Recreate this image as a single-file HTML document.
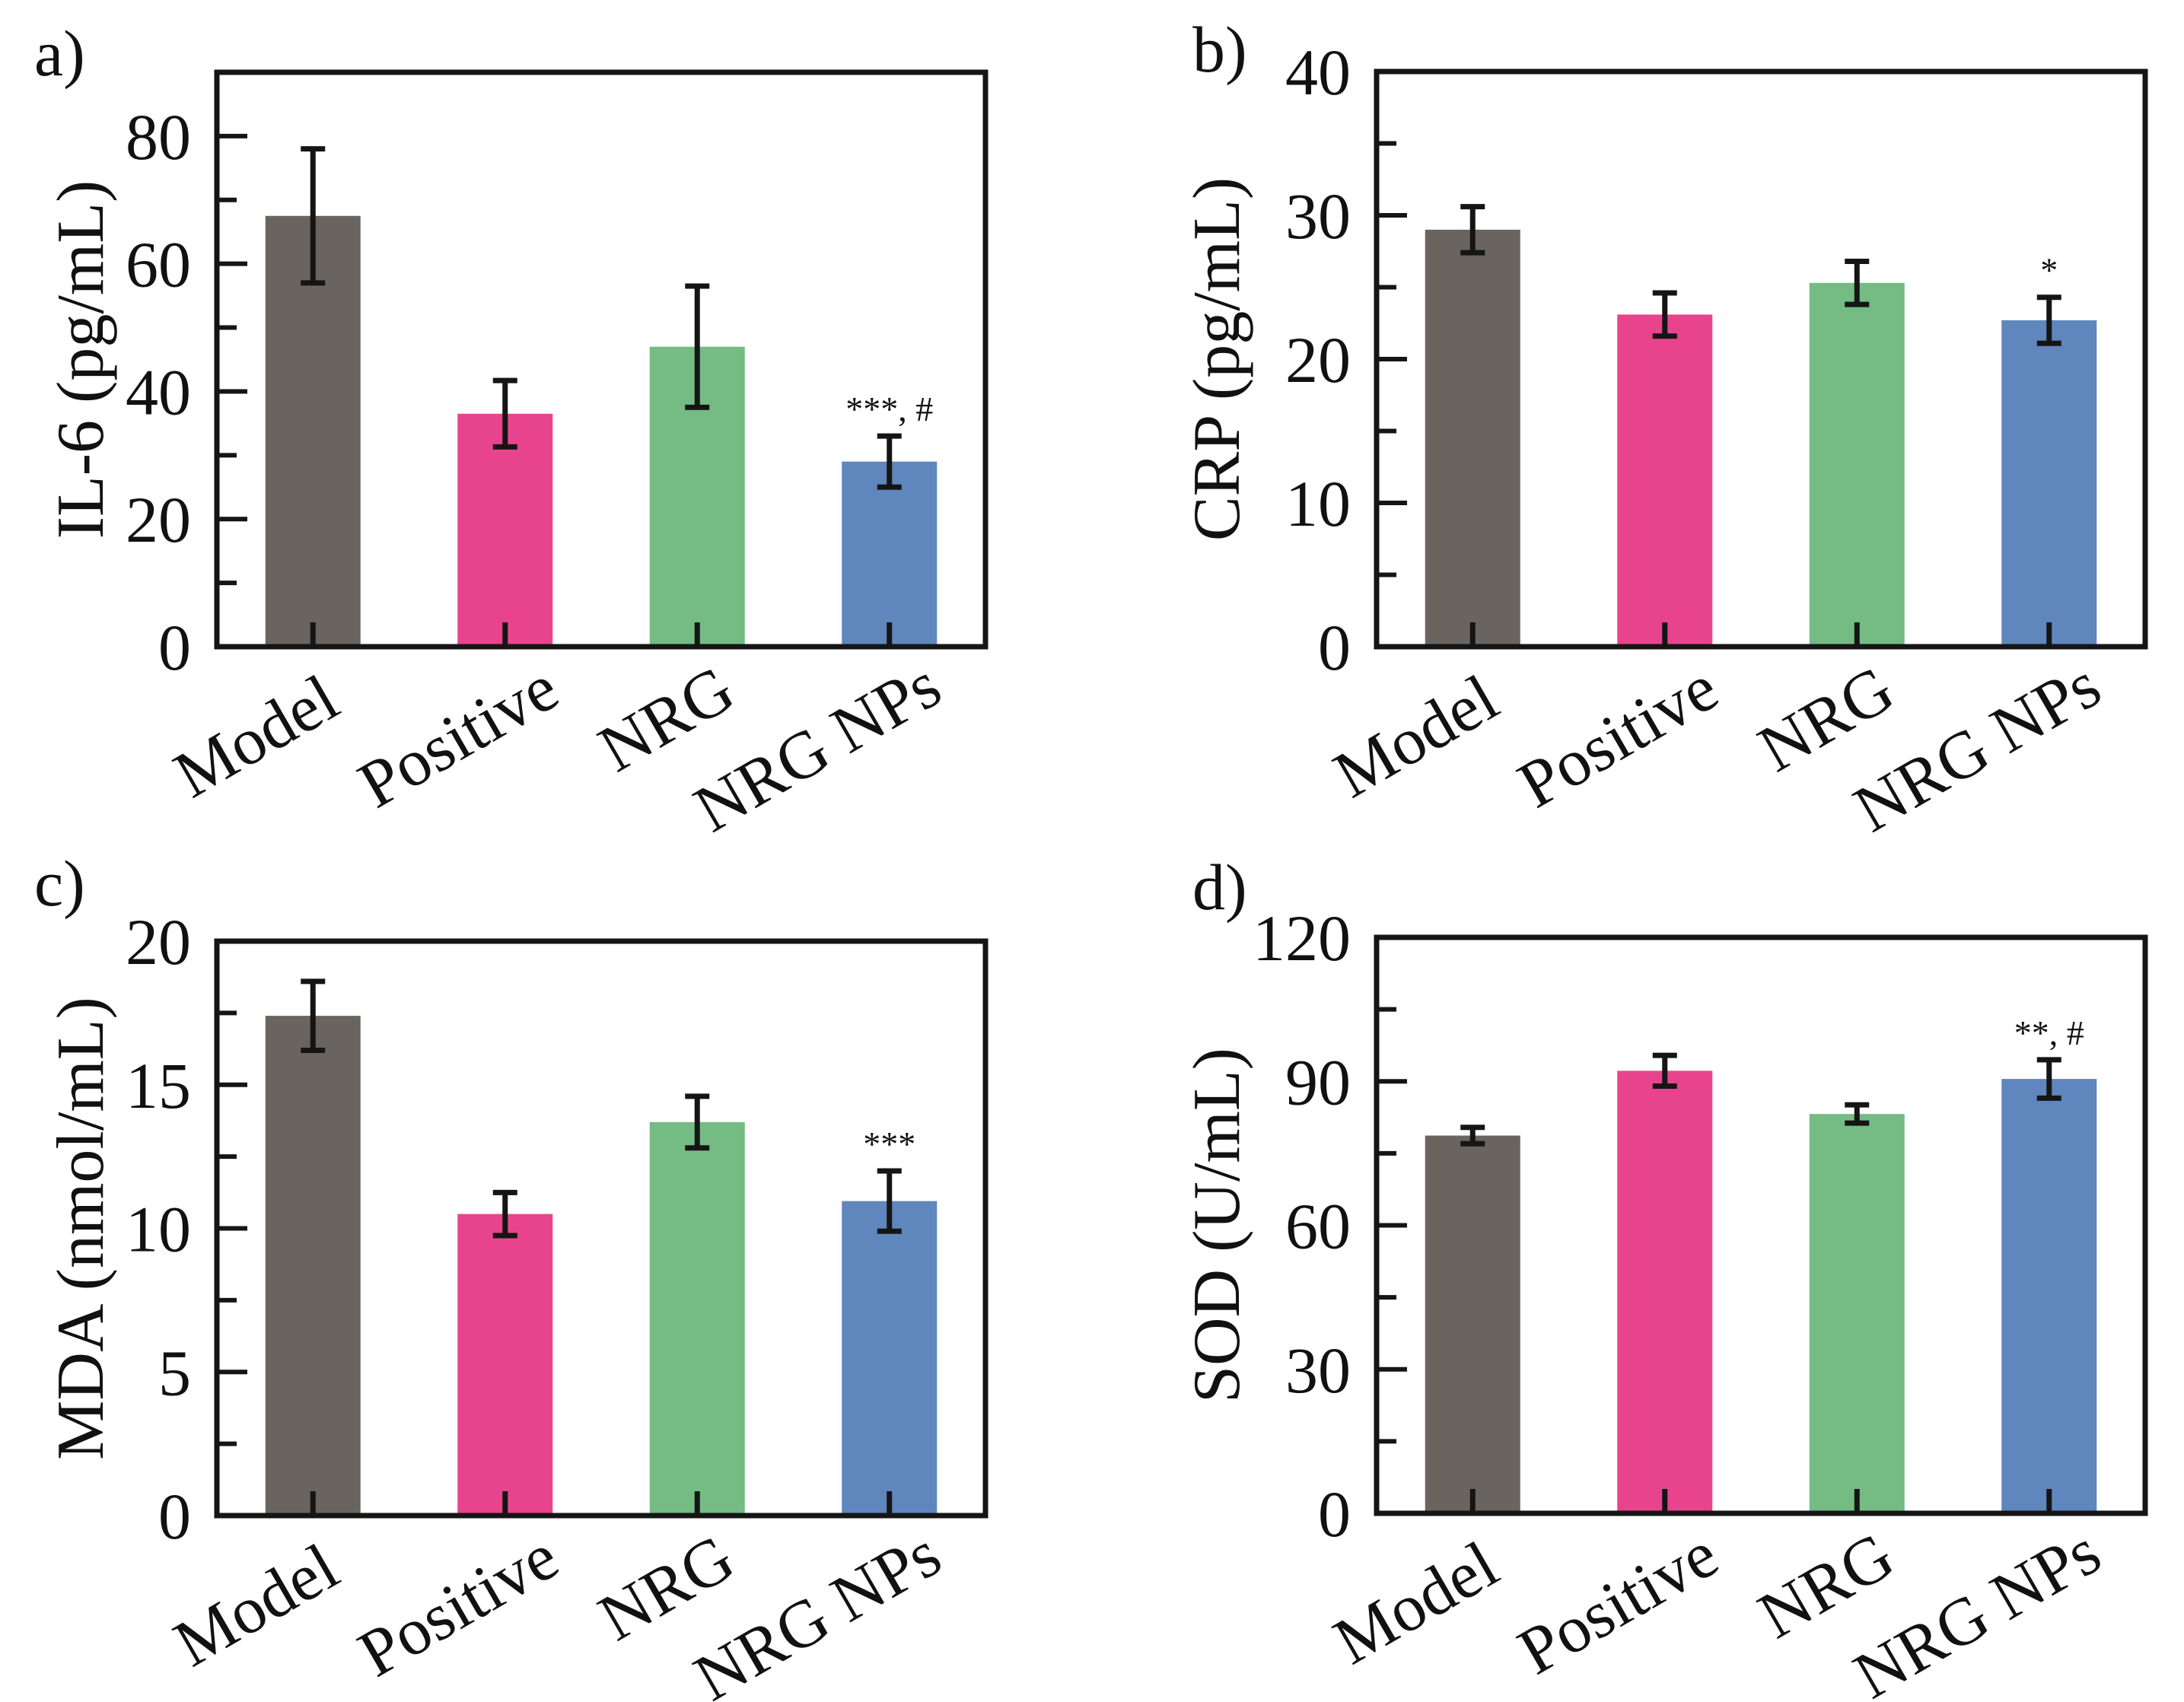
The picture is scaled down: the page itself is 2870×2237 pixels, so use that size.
<!DOCTYPE html>
<html><head><meta charset="utf-8"><style>
html,body{margin:0;padding:0;background:#fff;}
svg{display:block;}
text{font-family:"Liberation Serif","DejaVu Serif",serif;fill:#111;}
</style></head>
<body>
<svg id="fig" width="2870" height="2237" viewBox="0 0 2870 2237" xmlns="http://www.w3.org/2000/svg"></svg>
<script>
const categories = ["Model", "Positive", "NRG", "NRG NPs"];
const barColors = ["#6a6460", "#e8448e", "#74bb84", "#5f86bd"];

const il6Values = [67.5, 36.5, 47, 29];
const il6Err = [10.5, 5.2, 9.5, 4];
const il6Ticks = [0, 20, 40, 60, 80];
const il6Sig = ["", "", "", "***, #"];

const crpValues = [29, 23.1, 25.3, 22.7];
const crpErr = [1.6, 1.5, 1.5, 1.6];
const crpTicks = [0, 10, 20, 30, 40];
const crpSig = ["", "", "", "*"];

const mdaValues = [17.4, 10.5, 13.7, 10.95];
const mdaErr = [1.2, 0.75, 0.9, 1.05];
const mdaTicks = [0, 5, 10, 15, 20];
const mdaSig = ["", "", "", "***"];

const sodValues = [78.7, 92.2, 83.2, 90.5];
const sodErr = [1.7, 3.2, 1.9, 4];
const sodTicks = [0, 30, 60, 90, 120];
const sodSig = ["", "", "", "**, #"];

const NS = "http://www.w3.org/2000/svg";
const svg = document.getElementById("fig");
function mk(tag, attrs, parent) {
  const e = document.createElementNS(NS, tag);
  for (const k in attrs) e.setAttribute(k, attrs[k]);
  (parent || svg).appendChild(e);
  return e;
}
const labelDx = [-60, -47, -26, -80];
const labelDy = [143, 143, 120, 157];

function panel(cfg) {
  const g = mk("g", {});
  
  
  const L = cfg.left, R = cfg.right, T = cfg.top, B = cfg.bottom;
  const yMax = cfg.ticks[cfg.ticks.length - 1] * cfg.topFactor;
  const y = v => B - (v / yMax) * (B - T);
  const slotW = (R - L) / 4;
  const x = i => L + slotW * (i + 0.5);
  const bw = 125;
  cfg.values.forEach((v, i) => {
    const r = mk("rect", {x: x(i) - bw / 2, y: y(v), width: bw, height: B - y(v), fill: barColors[i]}, g);
    
    
  });
  cfg.values.forEach((v, i) => {
    const eg = mk("g", {stroke: "#151515", "stroke-width": 7}, g);
    
    
    const hi = y(v + cfg.err[i]), lo = y(v - cfg.err[i]);
    mk("line", {x1: x(i), x2: x(i), y1: hi, y2: lo}, eg);
    mk("line", {x1: x(i) - 16, x2: x(i) + 16, y1: hi, y2: hi}, eg);
    mk("line", {x1: x(i) - 16, x2: x(i) + 16, y1: lo, y2: lo}, eg);
    if (cfg.sig[i]) {
      const t = mk("text", {x: x(i), y: hi - 20, "text-anchor": "middle", "font-size": 46}, g);
      t.textContent = cfg.sig[i];
      
      
    }
  });
  categories.forEach((c, i) => {
    mk("line", {x1: x(i), x2: x(i), y1: B, y2: B - 32, stroke: "#151515", "stroke-width": 7}, g);
    const tx = x(i) + labelDx[i], ty = B + labelDy[i];
    const t = mk("text", {x: tx, y: ty, "text-anchor": "middle", "font-size": 88, transform: `rotate(-30 ${tx} ${ty})`}, g);
    t.textContent = c;
    
    
  });
  const step = cfg.ticks[1] - cfg.ticks[0];
  cfg.ticks.forEach((tv) => {
    mk("line", {x1: L, x2: L + 40, y1: y(tv), y2: y(tv), stroke: "#151515", "stroke-width": 6}, g);
    const mv = tv + step / 2;
    if (mv < yMax) mk("line", {x1: L, x2: L + 26, y1: y(mv), y2: y(mv), stroke: "#151515", "stroke-width": 6}, g);
    const t = mk("text", {x: L - 34, y: y(tv) + 30, "text-anchor": "end", "font-size": 86}, g);
    t.textContent = tv;
    
    
  });
  const f = mk("rect", {x: L, y: T, width: R - L, height: B - T, fill: "none", stroke: "#151515", "stroke-width": 7}, g);
  
  
  const ty = (T + B) / 2;
  const yt = mk("text", {x: cfg.titleX, y: ty, "text-anchor": "middle", "font-size": 88, transform: `rotate(-90 ${cfg.titleX} ${ty})`}, g);
  yt.textContent = cfg.title;
  
  
  const pl = mk("text", {x: cfg.letterX, y: cfg.letterY, "font-size": 86}, g);
  pl.textContent = cfg.letter;
  
  
}

panel({name: "panel-a-il6", left: 285, right: 1295, top: 95, bottom: 850, ticks: il6Ticks, topFactor: 90/80,
  values: il6Values, err: il6Err, sig: il6Sig, title: "IL-6 (pg/mL)", titleX: 135, letter: "a)", letterX: 45, letterY: 99});
panel({name: "panel-b-crp", left: 1809, right: 2819, top: 94, bottom: 850, ticks: crpTicks, topFactor: 1,
  values: crpValues, err: crpErr, sig: crpSig, title: "CRP (pg/mL)", titleX: 1628, letter: "b)", letterX: 1567, letterY: 94});
panel({name: "panel-c-mda", left: 285, right: 1295, top: 1237, bottom: 1992, ticks: mdaTicks, topFactor: 1,
  values: mdaValues, err: mdaErr, sig: mdaSig, title: "MDA (nmol/mL)", titleX: 135, letter: "c)", letterX: 45, letterY: 1190});
panel({name: "panel-d-sod", left: 1809, right: 2819, top: 1232, bottom: 1989, ticks: sodTicks, topFactor: 1,
  values: sodValues, err: sodErr, sig: sodSig, title: "SOD (U/mL)", titleX: 1628, letter: "d)", letterX: 1567, letterY: 1195});
</script>
</body></html>
